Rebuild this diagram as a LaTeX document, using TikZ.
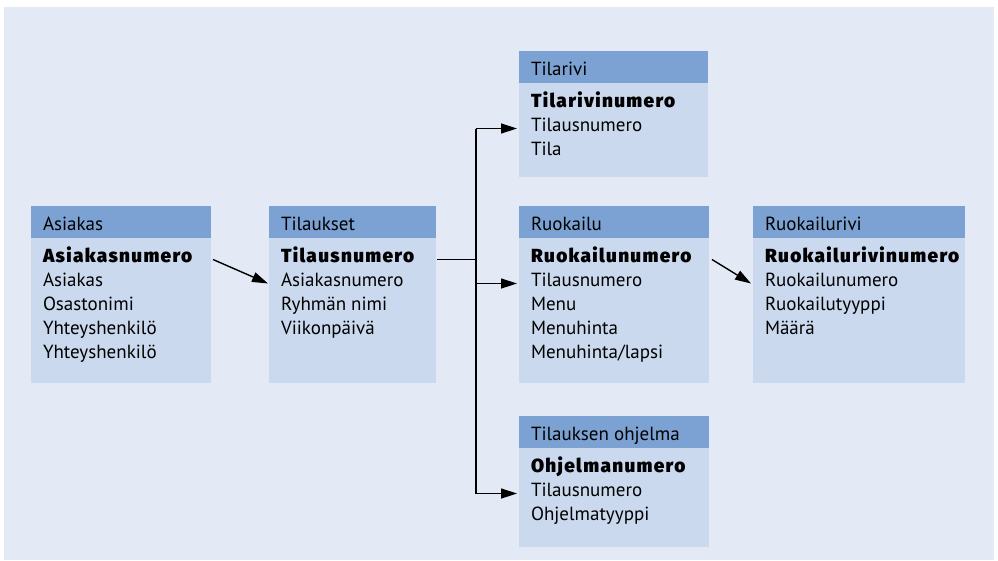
\documentclass[tikz,border=0pt]{standalone}
\usepackage{fontspec}
\setmainfont{PT Sans}
\newfontfamily\keyfont{Fira Sans Black}[LetterSpace=7]
\usetikzlibrary{arrows.meta,calc}
\definecolor{bgc}{HTML}{E3EAF5}
\definecolor{hdrc}{HTML}{7BA2D2}
\definecolor{bodyc}{HTML}{CAD9ED}
\tikzset{
  bodybox/.style={fill=bodyc, draw=none, anchor=north west, inner sep=0pt, outer sep=0pt},
  hdrbox/.style={fill=hdrc, draw=none, anchor=north west, inner sep=0pt, outer sep=0pt, minimum height=32pt},
  ln/.style={anchor=base west, inner sep=0pt, outer sep=0pt, font=\fontsize{19}{24}\selectfont},
  keyln/.style={ln, font=\fontsize{19}{24}\selectfont\keyfont},
  conn/.style={line width=1.4pt, black},
  arr/.style={conn, -{Triangle[length=16pt,width=10pt]}}
}
\newcommand\entbox[8]{%
  \node[bodybox, minimum width=#4pt, minimum height=#5pt] (#1) at (#2,#3) {};
  \node[hdrbox, minimum width=#4pt] (#1h) at (#2,#3) {};
  \node[ln] (#1t) at (#2+12,#3+24) {#6};
  \node[keyln] (#1k) at (#2+12,#3+56) {#7};
  \foreach \t [count=\i] in {#8} {\node[ln] (#1l\i) at (#2+12,#3+56+24*\i) {\t};}
}
\begin{document}
\begin{tikzpicture}[x=1pt,y=-1pt]
\useasboundingbox (0,0) rectangle (998,560);
\fill[bgc] (4,7) rectangle (994,560);
\entbox{asiakas}{31}{206}{180}{177}{Asiakas}{Asiakasnumero}{Asiakas,Osastonimi,Yhteyshenkilö,Yhteyshenkilö}
\entbox{tilaukset}{269}{206}{167}{177}{Tilaukset}{Tilausnumero}{Asiakasnumero,Ryhmän nimi,Viikonpäivä}
\entbox{tilarivi}{519}{51}{189}{126}{Tilarivi}{Tilarivinumero}{Tilausnumero,Tila}
\entbox{ruokailu}{519}{206}{190}{177}{Ruokailu}{Ruokailunumero}{Tilausnumero,Menu,Menuhinta,Menuhinta/lapsi}
\entbox{ruokrivi}{753}{206}{212}{177}{Ruokailurivi}{Ruokailurivinumero}{Ruokailunumero,Ruokailutyyppi,Määrä}
\entbox{ohjelma}{519}{416}{190}{131}{Tilauksen ohjelma}{Ohjelmanumero}{Tilausnumero,Ohjelmatyyppi}
\coordinate (split) at (476,0);
% Asiakas -> Tilaukset
\draw[arr] ([xshift=2pt]asiakas.east |- asiakask.mid) -- ([xshift=-1pt]tilaukset.west |- tilauksetl1.mid);
% Tilaukset branch
\draw[conn] ([xshift=1pt]tilaukset.east |- tilauksetk.mid) -- (split |- tilauksetk.mid);
\draw[conn] (split |- tilarivil1.mid) -- (split |- ohjelmal1.mid);
\draw[arr] (split |- tilarivil1.mid) -- ([xshift=-2pt]tilarivi.west |- tilarivil1.mid);
\draw[arr] (split |- ruokailul1.mid) -- ([xshift=-2pt]ruokailu.west |- ruokailul1.mid);
\draw[arr] (split |- ohjelmal1.mid) -- ([xshift=-2pt]ohjelma.west |- ohjelmal1.mid);
% Ruokailu -> Ruokailurivi
\draw[arr] ([xshift=3pt]ruokailu.east |- ruokailuk.mid) -- ([xshift=-2pt]ruokrivi.west |- ruokrivil1.mid);
\end{tikzpicture}
\end{document}
